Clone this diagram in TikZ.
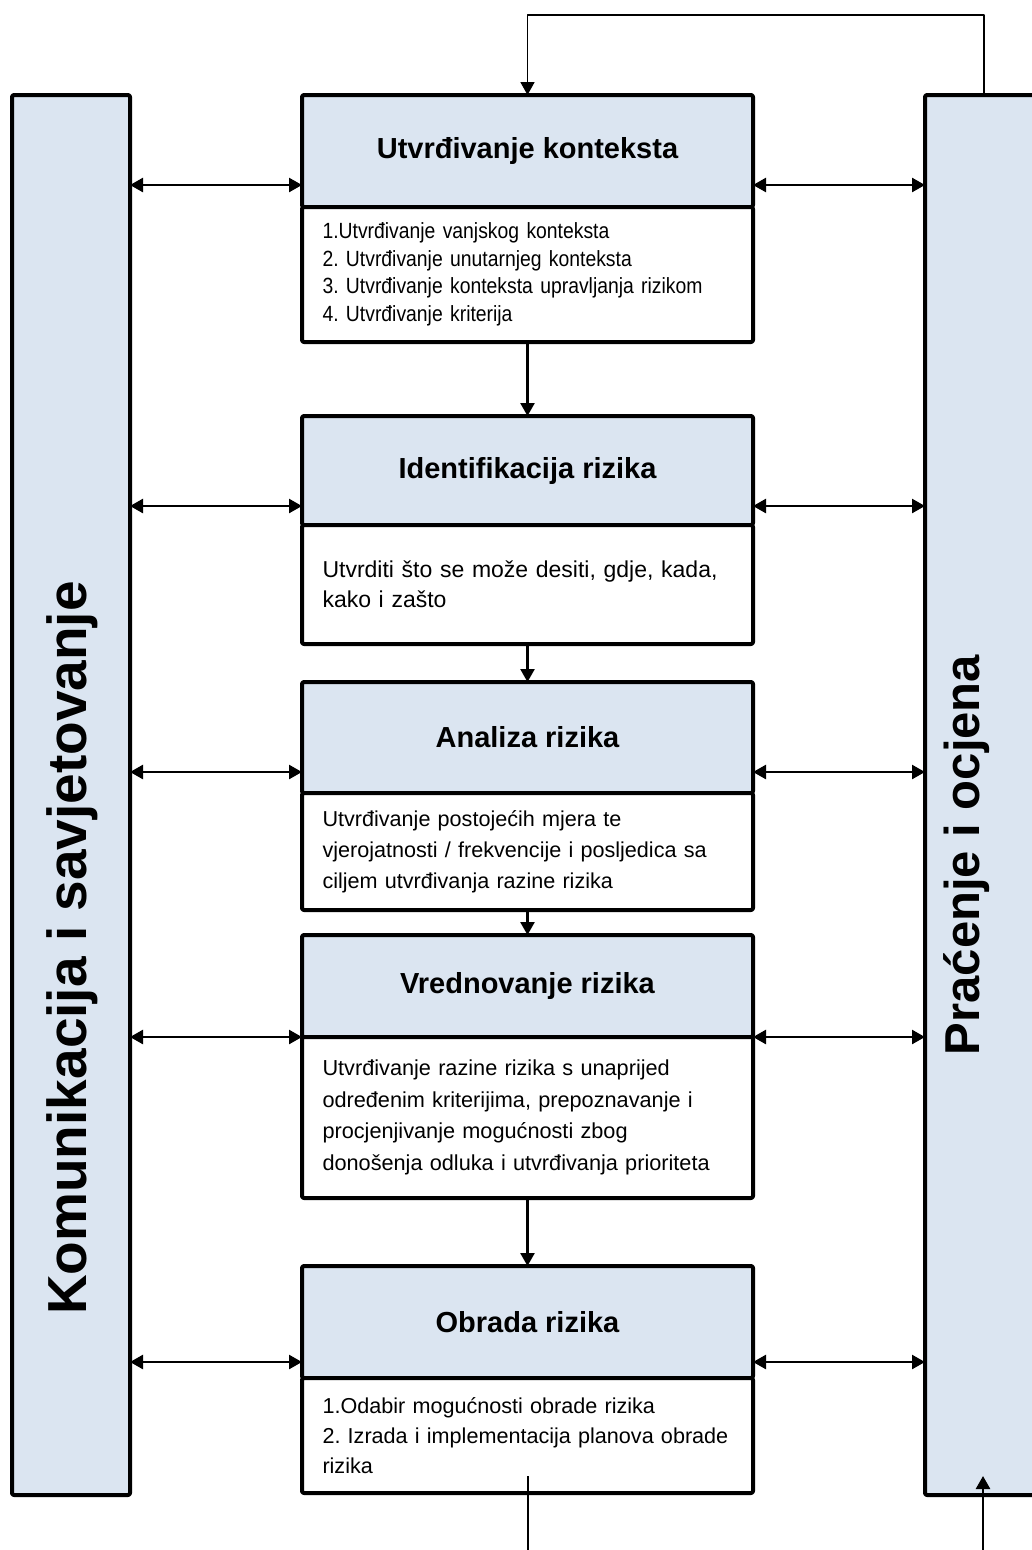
\documentclass[tikz,border=0pt]{standalone}
\usepackage{fontspec}
\setmainfont{Liberation Sans}
\newfontfamily\narrowsans[FakeStretch=0.88]{Liberation Sans}
\usepackage{xcolor}
\usetikzlibrary{arrows.meta}
\definecolor{boxblue}{HTML}{DBE5F1}
\frenchspacing

\begin{document}
\begin{tikzpicture}[x=1pt,y=-1pt,line join=round,
  >={Triangle[length=13pt,width=14pt]}]
  \tikzstyle{every node}=[inner sep=0pt,outer sep=0pt]
  \tikzstyle{column}=[draw,line width=4pt,rounded corners=2pt,fill=boxblue,
    anchor=north west,minimum width=118pt,minimum height=1400pt]
  \tikzstyle{hdr}=[draw,line width=4pt,rounded corners=2pt,fill=boxblue,
    anchor=north west,minimum width=451pt,font=\fontsize{29}{34}\selectfont\bfseries]
  \tikzstyle{txt}=[draw,line width=4pt,rounded corners=2pt,fill=white,
    anchor=north west,minimum width=451pt,text width=410pt,align=left,
    inner xsep=20.5pt,execute at begin node=\frenchspacing]
  \tikzstyle{biarrow}=[<->,line width=2.5pt]
  \tikzstyle{flow}=[->,line width=2.5pt]
  \tikzstyle{loopline}=[line width=1.8pt]

  \useasboundingbox (0,0) rectangle (1032,1550);

  \node[column] (komcol) at (12,95) {};
  \node[column] (pracol) at (925,95) {};
  \node[rotate=90,font=\fontsize{55}{62}\selectfont\bfseries] (komlbl) at (72,948)
    {Komunikacija i savjetovanje};
  \node[rotate=90,font=\fontsize{49}{56}\selectfont\bfseries] (pralbl) at (967,855)
    {Praćenje i ocjena};

  \node[hdr,minimum height=112pt] (hdr1) at (302,95)   {Utvrđivanje konteksta};
  \node[txt,minimum height=135pt,font=\narrowsans\fontsize{22}{27.5}\selectfont]
    (txt1) at (302,207) {1.Utvrđivanje vanjskog konteksta\\
    2. Utvrđivanje unutarnjeg konteksta\\
    3. Utvrđivanje konteksta upravljanja rizikom\\
    4. Utvrđivanje kriterija};

  \node[hdr,minimum height=109pt] (hdr2) at (302,416)  {Identifikacija rizika};
  \node[txt,minimum height=119pt,font=\fontsize{23}{30}\selectfont]
    (txt2) at (302,525) {Utvrditi što se može desiti, gdje, kada,\\
    kako i zašto};

  \node[hdr,minimum height=111pt] (hdr3) at (302,682)  {Analiza rizika};
  \node[txt,minimum height=117pt,font=\fontsize{21.6}{31}\selectfont]
    (txt3) at (302,793) {Utvrđivanje postojećih mjera te\\
    vjerojatnosti / frekvencije i posljedica sa\\
    ciljem utvrđivanja razine rizika};

  \node[hdr,minimum height=102pt] (hdr4) at (302,935)  {Vrednovanje rizika};
  \node[txt,minimum height=161pt,font=\fontsize{21.7}{31.5}\selectfont]
    (txt4) at (302,1037) {Utvrđivanje razine rizika s unaprijed\\
    određenim kriterijima, prepoznavanje i\\
    procjenjivanje mogućnosti zbog\\
    donošenja odluka i utvrđivanja prioriteta};

  \node[hdr,minimum height=112pt] (hdr5) at (302,1266) {Obrada rizika};
  \node[txt,minimum height=115pt,font=\fontsize{21.6}{30}\selectfont]
    (txt5) at (302,1378) {1.Odabir mogućnosti obrade rizika\\
    2. Izrada i implementacija planova obrade\\
    rizika};

  \foreach \i/\y in {1/185,2/506,3/772,4/1037,5/1362} {
    \draw[biarrow] (komcol.east |- 0,\y) -- (hdr\i.west |- 0,\y);
    \draw[biarrow] (hdr\i.east |- 0,\y) -- (pracol.west |- 0,\y);
  }

  \foreach \a/\b in {1/2,2/3,3/4,4/5}
    \draw[flow] (txt\a.south) -- (hdr\b.north);

  \draw[loopline,->] (pracol.north) -- ++(0,-80) -| (hdr1.north);

  \coordinate (outstart) at (527.5,1476);
  \coordinate (outend) at (527.5,1550);
  \coordinate (instart) at (983,1550);
  \coordinate (inend) at (983,1476);
  \draw[line width=2pt] (outstart) -- (outend);
  \draw[flow] (instart) -- (inend);
\end{tikzpicture}
\end{document}
